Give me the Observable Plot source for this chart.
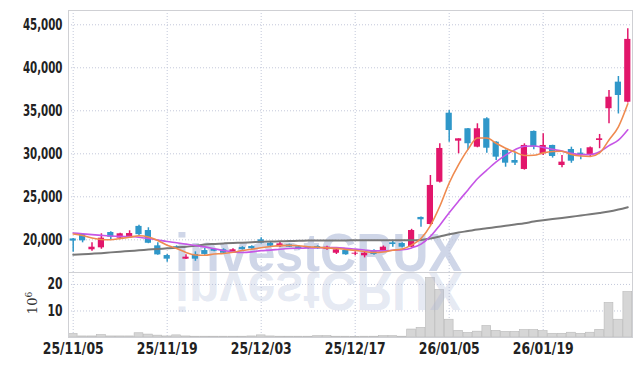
<!DOCTYPE html>
<html><head><meta charset="utf-8">
<script src="https://cdn.jsdelivr.net/npm/d3@7"></script>
<script src="https://cdn.jsdelivr.net/npm/@observablehq/plot@0.6"></script>
<style>
html,body{margin:0;padding:0;background:#fff;}
#chart{position:relative;width:642px;height:366px;overflow:hidden;}
#chart svg{position:absolute;left:0;}
</style></head><body><div id="chart"></div>
<script>
const dates = ["25/11/05","25/11/06","25/11/07","25/11/10","25/11/11","25/11/12","25/11/13","25/11/14","25/11/17","25/11/18",
"25/11/19","25/11/20","25/11/21","25/11/24","25/11/25","25/11/26","25/11/27","25/11/28","25/12/01","25/12/02",
"25/12/03","25/12/04","25/12/05","25/12/08","25/12/09","25/12/10","25/12/11","25/12/12","25/12/15","25/12/16",
"25/12/17","25/12/18","25/12/19","25/12/22","25/12/23","25/12/24","25/12/26","25/12/29","25/12/30","26/01/02",
"26/01/05","26/01/06","26/01/07","26/01/08","26/01/09","26/01/12","26/01/13","26/01/14","26/01/15","26/01/16",
"26/01/19","26/01/20","26/01/21","26/01/22","26/01/23","26/01/26","26/01/27","26/01/28","26/01/29","26/01/30"];
const open = [20100,20620,18840,19070,20850,20190,20350,21560,21080,19300,
18170,19200,17750,18300,18750,18900,18840,18490,19100,19220,
20000,19600,19190,19420,19190,19160,19220,18870,18440,18760,
18330,18140,18760,18640,19650,19570,19140,22600,21780,26700,
34720,31470,32910,30770,34070,31350,30390,29220,28180,32600,
30000,30970,28640,30500,30080,29920,31550,35240,38330,36000];
const high = [20150,20650,19650,20700,20950,20750,21050,21700,21400,19650,
18300,19300,18250,18600,19000,19000,18950,18950,19200,19300,
20230,19700,19770,19500,19250,19200,19300,19250,18900,18850,
18600,18560,18850,19280,19840,19650,21220,22650,27480,31160,
35040,31740,32950,33490,34190,31400,30450,30190,31160,32650,
32330,31000,29800,30770,30580,30800,32250,37360,38990,44540];
const low = [18560,19650,18680,18900,20000,20000,20270,20450,19550,18200,
17400,18900,17720,17500,18200,18600,18350,18400,18800,18900,
19500,19100,19100,19100,18850,18900,18900,18800,18290,18200,
18150,17900,18200,18600,19140,19050,19100,21470,21700,26600,
31350,30000,30400,30700,30070,29220,28440,28640,28100,30470,
29800,29500,28370,28900,29300,29610,30590,33490,34630,35900];
const close = [19850,19880,19140,20190,20300,20700,20730,20600,19600,18250,
17750,19100,17980,17750,18300,18670,18440,18840,18870,18950,
19600,19260,19530,19140,18900,18990,18950,19140,18840,18260,
18440,18440,18290,19140,19450,19140,21080,22330,26320,30620,
32710,31740,31170,32910,30650,29610,28910,28910,30970,30770,
30970,29690,29030,29140,29880,30700,31740,36580,36780,43300];
const ma5 = [20675,20500,20210,20035,20000,20150,20300,20470,20330,19920,
19360,19000,18530,18230,18200,18350,18400,18550,18750,18900,
19070,19220,19330,19350,19310,19190,19130,19060,19000,18880,
18770,18640,18520,18580,18780,18940,19380,20150,21660,23900,
26610,28740,30510,31830,31840,31220,30650,30200,29810,29830,
30110,30260,30290,29920,29740,29690,30100,31610,33140,35820];
const ma10 = [20800,20700,20600,20520,20450,20400,20380,20300,20150,19980,
19800,19660,19500,19330,19180,18970,18750,18600,18530,18600,
18740,18800,18910,18990,19020,19040,19070,19100,19090,19020,
18920,18810,18710,18710,18780,18840,19060,19500,20400,21700,
23150,24500,25800,27100,28100,29050,29850,30470,30880,30900,
30750,30520,30310,30050,29900,29910,30240,30950,31580,32790];
const ma60 = [18260,18310,18380,18450,18540,18620,18700,18780,18860,18940,
19010,19090,19200,19300,19450,19520,19580,19630,19670,19720,
19770,19800,19830,19860,19880,19910,19920,19930,19930,19930,
19940,19940,19940,19940,19940,19940,19940,19980,20150,20380,
20640,20850,21020,21200,21340,21490,21630,21780,21930,22120,
22270,22410,22540,22680,22830,22970,23120,23290,23520,23790];
const volume = [1.3,0.4,0.4,0.9,0.4,0.4,0.4,1.6,1.1,0.7,
0.4,0.8,0.4,0.3,0.3,0.3,0.3,0.3,0.3,0.4,
0.8,0.4,0.3,0.3,0.3,0.3,0.5,0.5,0.3,0.3,
0.2,0.3,0.3,0.5,0.5,0.3,3.0,3.6,22.4,17.9,
6.7,2.5,1.7,2.2,4.3,2.5,2.1,2.1,2.8,2.8,
2.4,1.4,1.4,1.8,1.4,1.8,2.9,13.0,6.7,17.1];
const tickDates = ["25/11/05","25/11/19","25/12/03","25/12/17","26/01/05","26/01/19"];
const priceTicks = [20000,25000,30000,35000,40000,45000];
const volTicks = [10,20];

const data = dates.map((d,i)=>({date:d, open:open[i], high:high[i], low:low[i], close:close[i],
  ma5:ma5[i], ma10:ma10[i], ma60:ma60[i], volume:volume[i]}));

const UP="#e2166b", DOWN="#2f97c9";
const FONT="'DejaVu Sans Condensed','DejaVu Sans',sans-serif";
const GRID="#c3c8da";
const FRAME="#cfd0d4";
const candleColor = d => d.close >= d.open ? UP : DOWN;

const price = Plot.plot({
  width:642, height:272, marginTop:10, marginBottom:0, marginLeft:68, marginRight:10,
  style:{fontFamily:FONT, fontSize:"15px", fontWeight:"bold", color:"#222", background:"transparent"},
  x:{type:"band", domain:dates, padding:0, round:false, axis:null},
  y:{domain:[16200,46660], ticks:priceTicks, tickSize:0, tickPadding:6, tickFormat:d3.format(",d"), label:null},
  color:{type:"identity"},
  marks:[
    Plot.ruleY(priceTicks,{stroke:GRID, strokeDasharray:"1,2"}),
    Plot.ruleX(tickDates,{x:d=>d, stroke:GRID, strokeDasharray:"1,2"}),
    Plot.ruleX(data,{x:"date", y1:"low", y2:"high", stroke:candleColor, strokeWidth:1.5}),
    Plot.barY(data,{x:"date", y1:"open", y2:"close", fill:candleColor, insetLeft:1.6, insetRight:1.6}),
    Plot.line(data,{x:"date", y:"ma60", stroke:"#787878", strokeWidth:2, curve:"monotone-x"}),
    Plot.line(data,{x:"date", y:"ma10", stroke:"#c655e6", strokeWidth:1.6, curve:"monotone-x"}),
    Plot.line(data,{x:"date", y:"ma5", stroke:"#ef8a4f", strokeWidth:1.6, curve:"monotone-x"}),
    Plot.frame({stroke:FRAME})
  ]
});

const vol = Plot.plot({
  width:642, height:94, marginTop:0, marginBottom:29, marginLeft:68, marginRight:10,
  style:{fontFamily:FONT, fontSize:"15px", fontWeight:"bold", color:"#222", background:"transparent"},
  x:{type:"band", domain:dates, padding:0, round:false, ticks:tickDates, tickSize:0, tickPadding:6, label:null},
  y:{domain:[0,24.5], ticks:volTicks, tickSize:0, tickPadding:6, label:null},
  marks:[
    Plot.ruleY(volTicks,{stroke:GRID, strokeDasharray:"1,2"}),
    Plot.ruleX(tickDates,{x:d=>d, stroke:GRID, strokeDasharray:"1,2"}),
    Plot.barY(data,{x:"date", y:"volume", fill:"#d6d6d6", stroke:"#b8b8b8", strokeWidth:0.6, insetLeft:0.3, insetRight:0.3}),
    Plot.frame({stroke:FRAME})
  ]
});

const chart = document.getElementById("chart");
price.style.top="0px";
vol.style.top="272px";
chart.appendChild(price);
chart.appendChild(vol);

// condense axis labels to match the narrow typeface of the original
function squeeze(svg, sel, f){
  d3.select(svg).selectAll(sel).each(function(){
    const l = this.getComputedTextLength();
    if (l > 0) { this.setAttribute("textLength", (l*f).toFixed(1)); this.setAttribute("lengthAdjust","spacingAndGlyphs"); }
  });
}
squeeze(price, '[aria-label^="y-axis"] text', 0.76);
squeeze(vol, '[aria-label^="y-axis"] text', 0.8);
squeeze(vol, '[aria-label^="x-axis"] text', 0.92);

// watermark behind price marks
const ps = d3.select(price);
ps.insert("text","g")
  .attr("x",318.5).attr("y",271)
  .attr("text-anchor","middle")
  .attr("font-family","'Liberation Sans',Arial,sans-serif")
  .attr("font-weight","bold").attr("font-size",54)
  .attr("textLength",287).attr("lengthAdjust","spacingAndGlyphs")
  .attr("fill","#cfd6e8")
  .text("investCRUX");

// reflection in volume panel
const vs = d3.select(vol);
vs.append("text")
  .attr("transform","scale(1,-1)")
  .attr("x",318.5).attr("y",-1)
  .attr("text-anchor","middle")
  .attr("font-family","'Liberation Sans',Arial,sans-serif")
  .attr("font-weight","bold").attr("font-size",54)
  .attr("textLength",287).attr("lengthAdjust","spacingAndGlyphs")
  .attr("fill","#a9b5d6").attr("fill-opacity",0.3)
  .text("investCRUX");

// unit label
const ul = vs.append("text")
  .attr("transform","translate(37,31) rotate(-90)")
  .attr("text-anchor","middle")
  .attr("font-family","'DejaVu Serif','Liberation Serif',serif")
  .attr("font-weight","normal").attr("font-size",13).attr("fill","#333");
ul.append("tspan").text("10");
ul.append("tspan").attr("dy",-5).attr("font-size",9).text("6");
</script></body></html>
